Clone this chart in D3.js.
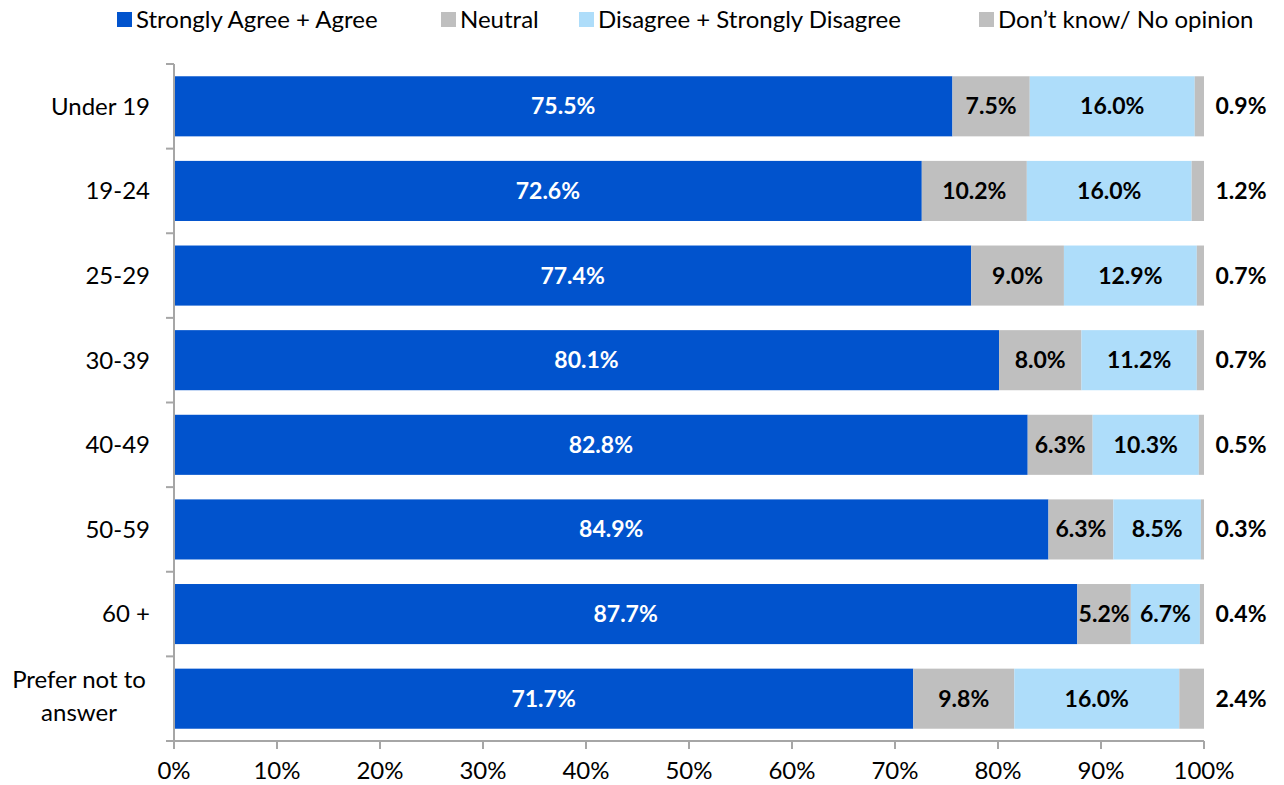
<!DOCTYPE html>
<html>
<head>
<meta charset="utf-8">
<script src="https://cdn.jsdelivr.net/npm/d3@7"></script>
<style>
  body { margin: 0; background: #fff; }
  svg text { font-family: Lato, "Open Sans", sans-serif; }
</style>
</head>
<body>
<svg id="chart" width="1284" height="785"></svg>
<script>
// chart data
var groups = ["Under 19", "19-24", "25-29", "30-39", "40-49", "50-59", "60 +", "Prefer not to answer"];
var seriesNames = ["Strongly Agree + Agree", "Neutral", "Disagree + Strongly Disagree", "Don\u2019t know/ No opinion"];
var agree = [75.5, 72.6, 77.4, 80.1, 82.8, 84.9, 87.7, 71.7];
var neutral = [7.5, 10.2, 9.0, 8.0, 6.3, 6.3, 5.2, 9.8];
var disagree = [16.0, 16.0, 12.9, 11.2, 10.3, 8.5, 6.7, 16.0];
var dontKnow = [0.9, 1.2, 0.7, 0.7, 0.5, 0.3, 0.4, 2.4];
var xTicks = [0, 0.1, 0.2, 0.3, 0.4, 0.5, 0.6, 0.7, 0.8, 0.9, 1];

var colors = ["#0153CD", "#BFBFBF", "#AEDDFA", "#BFBFBF"];
var labelColors = ["#fff", "#000", "#000", "#000"];

var plotLeft = 174, plotRight = 1204, plotTop = 64, plotBottom = 741;
var svg = d3.select("#chart");

// build rows, normalised to 100% like a 100% stacked bar
var rows = groups.map(function (g, i) {
  var vals = [agree[i], neutral[i], disagree[i], dontKnow[i]];
  var total = d3.sum(vals);
  var r = { group: g, raw: vals };
  seriesNames.forEach(function (s, k) { r[s] = vals[k] / total; });
  return r;
});

var stacked = d3.stack().keys(seriesNames)(rows);

var x = d3.scaleLinear().domain([0, 1]).range([plotLeft, plotRight]);
var y = d3.scaleBand().domain(groups).range([plotTop, plotBottom]).paddingInner(0.29).paddingOuter(0.145);
var yTick = d3.scaleBand().domain(groups).range([plotTop, plotBottom]);

// bars
var layers = svg.append("g").selectAll("g").data(stacked).join("g")
  .attr("fill", function (d, k) { return colors[k]; });

layers.selectAll("rect").data(function (d) { return d; }).join("rect")
  .attr("x", function (d) { return x(d[0]); })
  .attr("y", function (d) { return y(d.data.group); })
  .attr("width", function (d) { return x(d[1]) - x(d[0]); })
  .attr("height", y.bandwidth());

// value labels
stacked.forEach(function (layer, k) {
  svg.append("g").selectAll("text").data(layer).join("text")
    .attr("x", function (d) { return k === 3 ? 1241 : (x(d[0]) + x(d[1])) / 2; })
    .attr("y", function (d) { return y(d.data.group) + y.bandwidth() / 2; })
    .attr("dy", "0.35em")
    .attr("text-anchor", "middle")
    .attr("font-size", 23)
    .attr("font-weight", "bold")
    .attr("fill", labelColors[k])
    .text(function (d) { return d.data.raw[k].toFixed(1) + "%"; });
});

// y axis
var axisColor = "#A6A6A6";
var yg = svg.append("g");
yg.append("line").attr("x1", plotLeft).attr("x2", plotLeft).attr("y1", plotTop).attr("y2", plotBottom)
  .attr("stroke", axisColor).attr("stroke-width", 2);
yg.selectAll("line.tick").data(d3.range(groups.length + 1)).join("line").attr("class", "tick")
  .attr("x1", plotLeft - 8).attr("x2", plotLeft)
  .attr("y1", function (i) { return plotTop + i * yTick.step(); })
  .attr("y2", function (i) { return plotTop + i * yTick.step(); })
  .attr("stroke", axisColor).attr("stroke-width", 2);

yg.selectAll("text").data(groups).join("text")
  .attr("x", 150)
  .attr("y", function (d) { return yTick(d) + yTick.bandwidth() / 2; })
  .attr("text-anchor", "end")
  .attr("font-size", 24)
  .attr("fill", "#000")
  .each(function (d) {
    var t = d3.select(this);
    if (d === "Prefer not to answer") {
      t.attr("text-anchor", "middle");
      t.append("tspan").attr("x", 79).attr("dy", "-0.45em").text("Prefer not to");
      t.append("tspan").attr("x", 79).attr("dy", "1.4em").text("answer");
    } else {
      t.attr("dy", "0.35em").text(d);
    }
  });

// x axis
var xg = svg.append("g");
xg.append("line").attr("x1", plotLeft).attr("x2", plotRight).attr("y1", plotBottom).attr("y2", plotBottom)
  .attr("stroke", axisColor).attr("stroke-width", 2);
xg.selectAll("line.tick").data(xTicks).join("line").attr("class", "tick")
  .attr("x1", function (d) { return x(d); }).attr("x2", function (d) { return x(d); })
  .attr("y1", plotBottom).attr("y2", plotBottom + 8)
  .attr("stroke", axisColor).attr("stroke-width", 2);
xg.selectAll("text").data(xTicks).join("text")
  .attr("x", function (d) { return x(d); })
  .attr("y", 779)
  .attr("text-anchor", "middle")
  .attr("font-size", 24)
  .attr("fill", "#000")
  .text(d3.format(".0%"));

// legend
var legendX = [117, 441, 579, 979];
var lg = svg.append("g").selectAll("g").data(seriesNames).join("g")
  .attr("transform", function (d, i) { return "translate(" + legendX[i] + ",12)"; });
lg.append("rect").attr("width", 15).attr("height", 15)
  .attr("fill", function (d, i) { return colors[i]; });
lg.append("text").attr("x", 19).attr("y", 8).attr("dy", "0.35em")
  .attr("font-size", 24).attr("fill", "#000")
  .text(function (d) { return d; });
</script>
</body>
</html>
